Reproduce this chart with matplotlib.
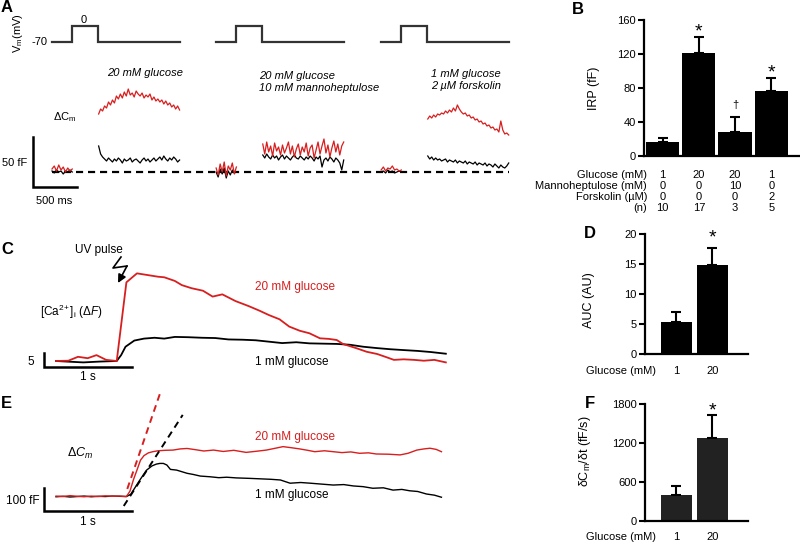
import numpy as np
import matplotlib
matplotlib.use('Agg')
import matplotlib.pyplot as plt
from matplotlib import transforms
from matplotlib.lines import Line2D

plt.rcParams['font.family'] = ['Liberation Sans', 'DejaVu Sans']
plt.rcParams['mathtext.fontset'] = 'custom'
plt.rcParams['mathtext.rm'] = 'Liberation Sans'
plt.rcParams['mathtext.it'] = 'Liberation Sans:italic'
plt.rcParams['mathtext.bf'] = 'Liberation Sans:bold'

W, H = 800, 542
RED = '#d81e1e'

# ---------------- Panel A data (ms, fF) ----------------
SWEEP_OFFSETS = [0, 1865, 3740]
PULSE_START, PULSE_END, SWEEP_END = 230, 525, 1455
HOLD_MV, STEP_MV = -70, 0
A_conditions = ['20 mM glucose', '20 mM glucose\n10 mM mannoheptulose',
                '1 mM glucose\n2 \u00b5M forskolin']

pre_red = [
    [3, 6, 1, 7, 2, 5, 0, 4, 1, 3],
    [4, -3, 8, 0, 10, -4, 6, 2, 9, -2, 5],
    [2, 5, 1, 4, 3, 6, 2, 3, 1, 2],
]
pre_black = [
    [1, -1, 2, 0, 1, -2, 1, 0, 2, 0],
    [0, -5, 3, -2, 4, -6, 1, -3, 2, -1, 0],
    [0, 1, -1, 2, 0, 1, -1, 0, 1, 0],
]
post_red = [
    [58, 63, 61, 66, 64, 70, 67, 72, 69, 76, 73, 78, 74, 80, 76, 83, 77, 79, 75, 81, 78,
     76, 79, 74, 77, 75, 78, 72, 75, 71, 73, 70, 72, 68, 71, 67, 69, 65, 67, 63, 66, 62],
    [28, 18, 30, 20, 26, 16, 29, 21, 25, 17, 27, 19, 24, 30, 18, 26, 15, 23, 28, 17, 25,
     20, 29, 16, 24, 27, 14, 22, 30, 18, 26, 33, 19, 27, 15, 24, 31, 20, 28, 17, 26, 30],
    [53, 56, 54, 57, 55, 58, 57, 59, 58, 61, 59, 62, 60, 64, 61, 67, 63, 60, 58, 59, 56,
     57, 54, 55, 52, 53, 50, 51, 48, 49, 46, 47, 44, 45, 42, 43, 40, 51, 42, 38, 39, 37],
]
post_black = [
    [26, 18, 15, 13, 11, 14, 12, 10, 13, 11, 14, 12, 9, 13, 11, 12, 14, 10, 12, 13, 11,
     9, 12, 14, 11, 13, 10, 12, 14, 11, 13, 15, 12, 16, 13, 11, 14, 12, 15, 13, 10, 12],
    [17, 14, 18, 15, 13, 17, 14, 16, 12, 15, 17, 13, 16, 14, 12, 15, 17, 14, 13, 16, 14,
     12, 15, 13, 16, 14, 11, 15, 13, 16, 5, 12, 14, 11, 15, 13, 10, 14, 12, 9, 2, 12],
    [16, 13, 15, 12, 14, 12, 13, 11, 12, 13, 10, 12, 11, 10, 12, 9, 11, 10, 9, 11, 8,
     10, 9, 8, 10, 7, 9, 8, 7, 9, 6, 8, 7, 5, 8, 6, 4, 7, 5, 4, 6, 9],
]
PRE_T = (0, 230)
POST_T = (530, 1450)

# ---------------- Panel B data ----------------
IRP_MEAN = [17, 121, 28, 77]
IRP_ERR = [4, 18.5, 17.5, 15]
IRP_SIG = ['', '*', '\u2020', '*']
B_rows = ['Glucose (mM)', 'Mannoheptulose (mM)', 'Forskolin (\u00b5M)', '(n)']
B_table = [['1', '20', '20', '1'],
           ['0', '0', '10', '0'],
           ['0', '0', '0', '2'],
           ['10', '17', '3', '5']]

# ---------------- Panel C data (s, dF) ----------------
C_red_t = [0.00, 0.14, 0.25, 0.36, 0.46, 0.57, 0.69, 0.80, 0.92, 1.04, 1.16, 1.23, 1.35,
           1.43, 1.54, 1.67, 1.78, 1.89, 2.04, 2.19, 2.31, 2.42, 2.54, 2.65, 2.77, 2.88,
           3.00, 3.10, 3.19, 3.26, 3.42, 3.53, 3.65, 3.76, 3.84, 3.95, 4.07, 4.18, 4.30, 4.43]
C_red_F = [0.0, 0.1, 1.5, 1.0, 2.1, 0.4, 0.0, 28.1, 31.3, 30.7, 30.1, 29.9, 28.6,
           27.1, 26.0, 25.1, 23.0, 23.8, 21.4, 19.6, 18.0, 16.4, 14.9, 12.3, 10.8, 9.9,
           8.1, 7.9, 7.5, 6.1, 4.5, 3.3, 2.5, 1.3, 0.4, 0.6, 0.4, 0.1, 0.4, -0.5]
C_blk_t = [0.00, 0.12, 0.31, 0.50, 0.69, 0.74, 0.79, 0.89, 1.00, 1.12, 1.23, 1.35, 1.50,
           1.66, 1.81, 1.96, 2.12, 2.27, 2.42, 2.57, 2.73, 2.88, 3.03, 3.19, 3.34, 3.49,
           3.65, 3.80, 3.95, 4.11, 4.26, 4.43]
C_blk_F = [0.0, -0.2, -0.5, -0.2, 0.0, 2.1, 5.1, 7.3, 8.0, 8.3, 8.0, 8.6, 8.5,
           8.3, 8.2, 7.7, 7.6, 7.4, 6.9, 6.4, 6.7, 6.3, 6.2, 6.1, 5.8, 5.1,
           4.6, 4.2, 3.9, 3.6, 3.2, 2.6]

# ---------------- Panel D data ----------------
AUC_MEAN = [5.3, 14.8]
AUC_ERR = [1.7, 2.9]
GLU = ['1', '20']

# ---------------- Panel E data (s, fF) ----------------
E_red_t = [0.00, 0.08, 0.16, 0.24, 0.32, 0.40, 0.48, 0.56, 0.64, 0.72, 0.80, 0.84, 0.88,
           0.92, 0.96, 1.00, 1.05, 1.10, 1.16, 1.24, 1.33, 1.41, 1.49, 1.58, 1.68, 1.79,
           1.90, 2.02, 2.16, 2.28, 2.39, 2.48, 2.58, 2.68, 2.77, 2.86, 2.94, 3.05, 3.15,
           3.25, 3.35, 3.45, 3.55, 3.64, 3.78, 3.91, 4.00, 4.10, 4.18, 4.25, 4.32, 4.38]
E_red_F = [4, 2, 6, 3, 1, 4, 2, 5, 3, 4, 2, 25, 75,
           117, 160, 180, 192, 197, 201, 203, 204, 209, 211, 206, 200, 204,
           198, 203, 194, 199, 204, 211, 219, 214, 209, 203, 197, 201, 197,
           193, 196, 190, 192, 187, 186, 183, 190, 204, 209, 212, 207, 197]
E_blk_t = [0.00, 0.08, 0.16, 0.24, 0.32, 0.40, 0.48, 0.56, 0.64, 0.72, 0.80, 0.85, 0.90,
           0.96, 1.03, 1.09, 1.14, 1.18, 1.22, 1.26, 1.30, 1.37, 1.43, 1.49, 1.56, 1.64,
           1.75, 1.85, 1.94, 2.05, 2.20, 2.32, 2.44, 2.55, 2.66, 2.78, 2.89, 3.02, 3.15,
           3.27, 3.38, 3.49, 3.60, 3.72, 3.83, 3.93, 4.02, 4.11, 4.21, 4.30, 4.38]
E_blk_F = [1, 3, 0, 2, 4, 1, 3, 2, 4, 3, 2, 12, 42,
           78, 117, 135, 143, 146, 146, 139, 120, 117, 110, 103, 98, 91,
           88, 84, 86, 83, 81, 79, 77, 74, 60, 63, 60, 56, 52,
           54, 48, 45, 38, 40, 30, 33, 27, 24, 13, 8, -1]
E_red_fit_t = [0.81, 1.18]
E_red_fit_F = [35, 448]
E_blk_fit_t = [0.77, 1.44]
E_blk_fit_F = [-39, 357]

# ---------------- Panel F data ----------------
RATE_MEAN = [400, 1277]
RATE_ERR = [134, 349]

# =====================================================
fig = plt.figure(figsize=(8, 5.42), dpi=100)


def px_axes(x0, y0, x1, y1):
    return fig.add_axes([x0 / W, 1 - y1 / H, (x1 - x0) / W, (y1 - y0) / H])


def trace_axes(box, origin, sx, sy):
    ax = px_axes(*box)
    x0, y0, x1, y1 = box
    ox, oy = origin
    ax.set_xlim((x0 - ox) / sx, (x1 - ox) / sx)
    ax.set_ylim((oy - y1) / sy, (oy - y0) / sy)
    ax.axis('off')
    return ax


def ftext(x, y, s, **kw):
    kw.setdefault('va', 'center')
    kw.setdefault('fontsize', 8)
    return fig.text(x / W, 1 - y / H, s, **kw)


def panel_label(x, y, s):
    ftext(x, y, s, fontsize=12, fontweight='bold', ha='center')


# ---------------- Panel A ----------------
axV = trace_axes((0, 0, 530, 60), (52, 26), 0.088, 16 / 70)
v_t = np.array([0, PULSE_START, PULSE_START, PULSE_END, PULSE_END, SWEEP_END])
v_v = [HOLD_MV, HOLD_MV, STEP_MV, STEP_MV, HOLD_MV, HOLD_MV]
for off in SWEEP_OFFSETS:
    axV.plot(v_t + off, v_v, color='#333333', lw=1.6, solid_joinstyle='miter')

axA = trace_axes((0, 60, 530, 210), (52, 172), 0.088, 1.0)
axA.plot([0, SWEEP_OFFSETS[-1] + SWEEP_END], [0, 0], color='black', lw=1.6,
         ls=(0, (3.2, 2.2)))
for i, off in enumerate(SWEEP_OFFSETS):
    tp = np.linspace(*PRE_T, len(pre_red[i])) + off
    tq = np.linspace(*POST_T, len(post_red[i])) + off
    axA.plot(np.linspace(*PRE_T, len(pre_black[i])) + off, pre_black[i], color='black', lw=0.9)
    axA.plot(np.linspace(*POST_T, len(post_black[i])) + off, post_black[i], color='black', lw=0.9)
    axA.plot(tp, pre_red[i], color=RED, lw=0.9)
    axA.plot(tq, post_red[i], color=RED, lw=0.9)
SB_T, SB_F = -216, -15
axA.plot([SB_T, SB_T, SB_T + 500], [SB_F + 50, SB_F, SB_F], color='black', lw=1.8,
         solid_joinstyle='miter')

panel_label(7, 8, 'A')
ftext(18, 33, 'V$_\\mathrm{m}$(mV)', rotation=90, ha='center')
ftext(48, 42, '-70', ha='right')
ftext(84, 20, '0', ha='center')
ftext(107, 73, A_conditions[0], style='italic', ha='left')
ftext(259, 82, A_conditions[1], style='italic', ha='left', linespacing=1.2)
ftext(431, 80, A_conditions[2], style='italic', ha='left', linespacing=1.2)
ftext(53, 117, '\u0394C$_\\mathrm{m}$', ha='left')
ftext(27, 163, '50 fF', ha='right')
ftext(54, 201, '500 ms', ha='center')


def style_bar_axes(ax):
    for s in ['top', 'right']:
        ax.spines[s].set_visible(False)
    for s in ['left', 'bottom']:
        ax.spines[s].set_linewidth(1.6)
    ax.tick_params(axis='y', direction='out', length=4, width=1.5, pad=2, labelsize=8)
    ax.tick_params(axis='x', length=0, labelbottom=False)
    ax.patch.set_alpha(0)


STAR_FS = 14

# ---------------- Panel B ----------------
axB = px_axes(644, 20, 800, 156)
xb = np.arange(len(IRP_MEAN))
axB.bar(xb, IRP_MEAN, width=0.92, color='black',
        yerr=[[0] * len(IRP_ERR), IRP_ERR],
        error_kw=dict(ecolor='black', elinewidth=1.5, capsize=3.5, capthick=1.5))
axB.set_xlim(-0.51, 3.79)
axB.set_ylim(0, 160)
axB.set_yticks([0, 40, 80, 120, 160])
style_bar_axes(axB)
axB.set_ylabel('IRP (fF)', fontsize=9)
axB.yaxis.set_label_coords((600 - 644) / 156, 0.5)
for x, m, e, s in zip(xb, IRP_MEAN, IRP_ERR, IRP_SIG):
    if s == '*':
        axB.text(x, m + e + 6, s, ha='center', va='center', fontsize=STAR_FS)
    elif s:
        axB.text(x, m + e + 15, s, ha='center', va='center', fontsize=8)
panel_label(578, 9, 'B')
trB = transforms.blended_transform_factory(axB.transData, fig.transFigure)
row_y = [175, 186, 197, 208]
for r, (lab, vals) in enumerate(zip(B_rows, B_table)):
    ftext(647, row_y[r], lab, ha='right')
    for x, v in zip(xb, vals):
        axB.text(x, 1 - row_y[r] / H, v, transform=trB, ha='center', va='center', fontsize=8)

# ---------------- Panel C ----------------
axC = trace_axes((0, 240, 530, 392), (56, 361), 88, 2.8)
axC.plot(C_blk_t, C_blk_F, color='black', lw=1.3)
axC.plot(C_red_t, C_red_F, color=RED, lw=1.3)
CB_T, CB_F = -0.136, -2.14
axC.plot([CB_T, CB_T, CB_T + 1], [CB_F + 5, CB_F, CB_F], color='black', lw=1.8,
         solid_joinstyle='miter')
panel_label(7, 250, 'C')
ftext(99, 250, 'UV pulse', ha='center', fontsize=8.5)
ftext(40, 312, '[Ca$^{2\\!+}$]$_\\mathrm{i}$ (\u0394$\\mathit{F}$)', ha='left', fontsize=8.5)
ftext(34, 362, '5', ha='right', fontsize=8.5)
ftext(88, 377, '1 s', ha='center', fontsize=8.5)
ftext(255, 287, '20 mM glucose', ha='left', color=RED, fontsize=8.5)
ftext(255, 362, '1 mM glucose', ha='left', fontsize=8.5)
bolt = [(121, 257), (113, 268), (127, 266)]
fig.add_artist(Line2D([p[0] / W for p in bolt], [1 - p[1] / H for p in bolt],
                      transform=fig.transFigure, color='black', lw=1.2))
fig.add_artist(matplotlib.patches.FancyArrowPatch(
    (127 / W, 1 - 266 / H), (118 / W, 1 - 283 / H), transform=fig.transFigure,
    arrowstyle='-|>', mutation_scale=12, color='black', lw=1.2,
    shrinkA=0, shrinkB=0))

# ---------------- Panel D ----------------
axD = px_axes(645, 234, 748, 354)
xd = np.arange(len(AUC_MEAN))
axD.bar(xd, AUC_MEAN, width=0.86, color='black',
        yerr=[[0] * len(AUC_ERR), AUC_ERR],
        error_kw=dict(ecolor='black', elinewidth=1.5, capsize=3.5, capthick=1.5))
axD.set_xlim(-0.875, 1.99)
axD.set_ylim(0, 20)
axD.set_yticks([0, 5, 10, 15, 20])
style_bar_axes(axD)
axD.set_ylabel('AUC (AU)', fontsize=9)
axD.yaxis.set_label_coords((595 - 645) / 103, (354 - 300) / 120)
axD.text(1, AUC_MEAN[1] + AUC_ERR[1] + 1.6, '*', ha='center', va='center', fontsize=STAR_FS)
panel_label(590, 233, 'D')
ftext(656, 371, 'Glucose (mM)', ha='right')
trD = transforms.blended_transform_factory(axD.transData, fig.transFigure)
for x, g in zip(xd, GLU):
    axD.text(x, 1 - 371 / H, g, transform=trD, ha='center', va='center', fontsize=8)

# ---------------- Panel E ----------------
axE = trace_axes((0, 390, 530, 542), (56, 497), 88, 0.23)
axE.plot(E_blk_t, E_blk_F, color='black', lw=1.0)
axE.plot(E_red_t, E_red_F, color=RED, lw=1.0)
axE.plot(E_red_fit_t, E_red_fit_F, color=RED, lw=1.4, ls=(0, (3.5, 2.5)))
axE.plot(E_blk_fit_t, E_blk_fit_F, color='black', lw=1.4, ls=(0, (3.5, 2.5)))
EB_T, EB_F = -0.136, -61
axE.plot([EB_T, EB_T, EB_T + 1], [EB_F + 100, EB_F, EB_F], color='black', lw=1.8,
         solid_joinstyle='miter')
panel_label(6, 403, 'E')
ftext(67, 453, '$\\Delta C_m$', ha='left', fontsize=9)
ftext(40, 501, '100 fF', ha='right', fontsize=8.5)
ftext(88, 522, '1 s', ha='center', fontsize=8.5)
ftext(255, 437, '20 mM glucose', ha='left', color=RED, fontsize=8.5)
ftext(255, 495, '1 mM glucose', ha='left', fontsize=8.5)

# ---------------- Panel F ----------------
axF = px_axes(645, 404, 748, 521)
axF.bar(xd, RATE_MEAN, width=0.86, color='#222222',
        yerr=[[0] * len(RATE_ERR), RATE_ERR],
        error_kw=dict(ecolor='black', elinewidth=1.5, capsize=3.5, capthick=1.5))
axF.set_xlim(-0.875, 1.99)
axF.set_ylim(0, 1800)
axF.set_yticks([0, 600, 1200, 1800])
style_bar_axes(axF)
axF.set_ylabel('\u03b4C$_\\mathrm{m}$/\u03b4t (fF/s)', fontsize=9)
axF.yaxis.set_label_coords((593 - 645) / 103, (521 - 451) / 117)
axF.text(1, RATE_MEAN[1] + RATE_ERR[1] + 70, '*', ha='center', va='center', fontsize=STAR_FS)
panel_label(590, 403, 'F')
ftext(656, 537, 'Glucose (mM)', ha='right')
trF = transforms.blended_transform_factory(axF.transData, fig.transFigure)
for x, g in zip(xd, GLU):
    axF.text(x, 1 - 537 / H, g, transform=trF, ha='center', va='center', fontsize=8)

fig.savefig('out.png', dpi=100)
